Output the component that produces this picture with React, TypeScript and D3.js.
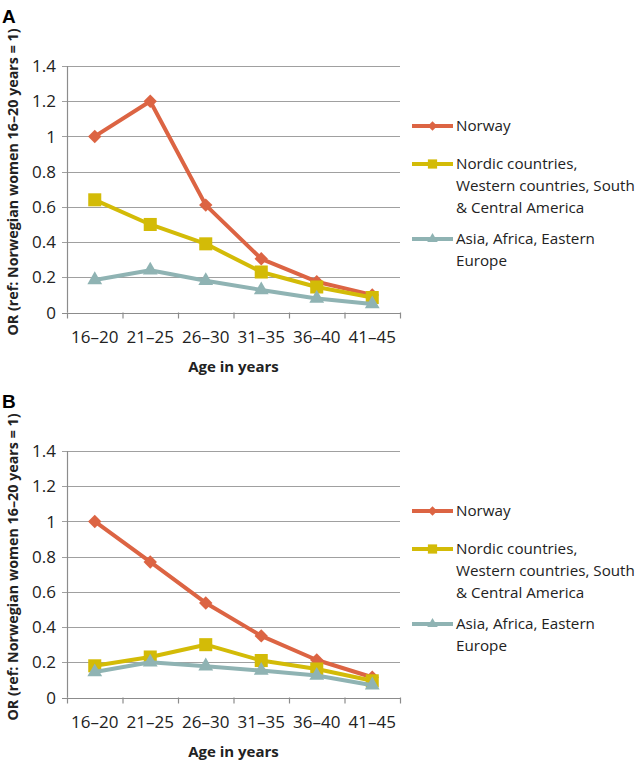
import * as d3 from "d3";
import { useEffect, useRef } from "react";

const categories = ["16–20", "21–25", "26–30", "31–35", "36–40", "41–45"];
const yTicks = [0, 0.2, 0.4, 0.6, 0.8, 1, 1.2, 1.4];

const seriesNames = [
  ["Norway"],
  ["Nordic countries,", "Western countries, South", "& Central America"],
  ["Asia, Africa, Eastern", "Europe"],
];

// panel A
const norwayA = [1.0, 1.2, 0.61, 0.305, 0.175, 0.1];
const nordicA = [0.64, 0.5, 0.39, 0.23, 0.145, 0.085];
const asiaA = [0.185, 0.24, 0.18, 0.128, 0.08, 0.048];

// panel B
const norwayB = [1.0, 0.77, 0.537, 0.35, 0.213, 0.115];
const nordicB = [0.18, 0.23, 0.3, 0.21, 0.162, 0.095];
const asiaB = [0.145, 0.2, 0.178, 0.153, 0.125, 0.07];

const colors = ["#DC6443", "#D3BB07", "#8FB3B3"];
const markers = ["diamond", "square", "triangle"];

const FONT = "'Open Sans', sans-serif";

const drawMarker = (
  g: d3.Selection<SVGGElement, unknown, null, undefined>,
  kind: string,
  x: number,
  y: number,
  scale: number,
  color: string
) => {
  let path: string;
  let rot = 0;
  if (kind === "diamond") {
    path = d3.symbol().type(d3.symbolSquare).size(90 * scale)()!;
    rot = 45;
  } else if (kind === "square") {
    path = d3.symbol().type(d3.symbolSquare).size(170 * scale)()!;
  } else {
    path = d3.symbol().type(d3.symbolTriangle).size(95 * scale)()!;
  }
  g.append("path")
    .attr("d", path)
    .attr("transform", `translate(${x},${y}) rotate(${rot})`)
    .attr("fill", color);
};

export default function App() {
  const svgRef = useRef<SVGSVGElement>(null);

  useEffect(() => {
    if (!svgRef.current) return;
    const svg = d3.select(svgRef.current);
    svg.selectAll("*").remove();

    const panels = [
      { letter: "A", top: 66, data: [norwayA, nordicA, asiaA] },
      { letter: "B", top: 451, data: [norwayB, nordicB, asiaB] },
    ];

    const left = 67;
    const right = 400;
    const plotH = 246.5;

    panels.forEach((p) => {
      const g = svg.append("g").attr("transform", `translate(0,${p.top})`);

      const x = d3.scaleBand().domain(categories).range([left, right]);
      const y = d3.scaleLinear().domain([0, 1.4]).range([plotH, 0]);

      // panel letter
      g.append("text")
        .attr("x", 2)
        .attr("y", -43)
        .attr("font-family", "'Liberation Sans', Arial, sans-serif")
        .attr("font-weight", "bold")
        .attr("font-size", 19)
        .text(p.letter);

      // gridlines + y ticks
      yTicks.forEach((t) => {
        g.append("line")
          .attr("x1", left - 5)
          .attr("x2", right)
          .attr("y1", Math.round(y(t)) + 0.5)
          .attr("y2", Math.round(y(t)) + 0.5)
          .attr("stroke", t === 0 ? "#8C8C8C" : "#A0A0A0")
          .attr("stroke-width", 1.2);
        g.append("text")
          .attr("x", 56)
          .attr("y", y(t))
          .attr("dy", "0.36em")
          .attr("text-anchor", "end")
          .attr("font-family", FONT)
          .attr("font-size", 17)
          .attr("fill", "#222")
          .text(String(t));
      });

      // y axis line
      g.append("line")
        .attr("x1", left + 0.5)
        .attr("x2", left + 0.5)
        .attr("y1", 0)
        .attr("y2", plotH)
        .attr("stroke", "#8C8C8C")
        .attr("stroke-width", 1.2);

      // x ticks at category boundaries
      categories.forEach((c) => {
        const bx = x(c)!;
        g.append("line")
          .attr("x1", bx + 0.5)
          .attr("x2", bx + 0.5)
          .attr("y1", plotH)
          .attr("y2", plotH + 6)
          .attr("stroke", "#8C8C8C")
          .attr("stroke-width", 1.2);
        g.append("text")
          .attr("x", bx + x.bandwidth() / 2)
          .attr("y", plotH + 30)
          .attr("text-anchor", "middle")
          .attr("font-family", FONT)
          .attr("font-size", 17)
          .attr("fill", "#222")
          .text(c);
      });
      g.append("line")
        .attr("x1", right + 0.5)
        .attr("x2", right + 0.5)
        .attr("y1", plotH)
        .attr("y2", plotH + 6)
        .attr("stroke", "#8C8C8C")
        .attr("stroke-width", 1.2);

      // axis titles
      g.append("text")
        .attr("x", (left + right) / 2)
        .attr("y", plotH + 59)
        .attr("text-anchor", "middle")
        .attr("font-family", FONT)
        .attr("font-weight", "bold")
        .attr("font-size", 15)
        .attr("fill", "#222")
        .text("Age in years");

      g.append("text")
        .attr("transform", `translate(18,${116}) rotate(-90)`)
        .attr("text-anchor", "middle")
        .attr("font-family", FONT)
        .attr("font-weight", "bold")
        .attr("font-size", 14.3)
        .attr("fill", "#222")
        .text("OR (ref: Norwegian women 16–20 years = 1)");

      // series
      const line = d3
        .line<number>()
        .x((_, i) => x(categories[i])! + x.bandwidth() / 2)
        .y((d) => y(d));

      p.data.forEach((vals, si) => {
        g.append("path")
          .datum(vals)
          .attr("d", line)
          .attr("fill", "none")
          .attr("stroke", colors[si])
          .attr("stroke-width", 4)
          .attr("stroke-linejoin", "round");
        vals.forEach((v, i) => {
          drawMarker(g, markers[si], x(categories[i])! + x.bandwidth() / 2, y(v), 1, colors[si]);
        });
      });

      // legend
      const legendY = [60, 98, 173];
      seriesNames.forEach((lines, si) => {
        const ly = legendY[si];
        g.append("line")
          .attr("x1", 412)
          .attr("x2", 453)
          .attr("y1", ly)
          .attr("y2", ly)
          .attr("stroke", colors[si])
          .attr("stroke-width", 4);
        drawMarker(g, markers[si], 432.5, ly, 0.5, colors[si]);
        lines.forEach((t, li) => {
          g.append("text")
            .attr("x", 456)
            .attr("y", ly + li * 22)
            .attr("dy", "0.36em")
            .attr("font-family", FONT)
            .attr("font-size", 15.2)
            .attr("fill", "#222")
            .text(t);
        });
      });
    });
  }, []);

  return (
    <svg
      ref={svgRef}
      width={639}
      height={761}
      style={{ position: "absolute", left: 0, top: 0, background: "#fff" }}
    />
  );
}
